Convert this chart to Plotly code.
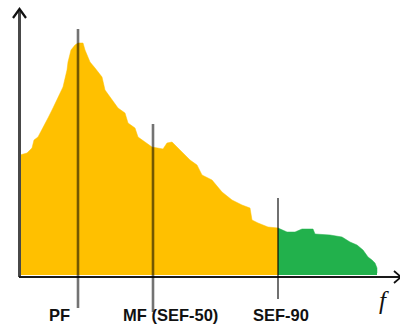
import plotly.graph_objects as go

# Power spectrum (frequency in Hz, power in arbitrary units)
freq = [0.0, 0.7, 1.2, 1.4, 1.8, 2.3, 2.8, 3.3, 3.8, 4.3, 4.7, 4.8, 5.1, 5.5,
        5.8, 6.3, 6.5, 7.0, 7.5, 8.2, 8.5, 9.2, 9.8, 10.5, 10.8, 11.5, 11.8,
        12.5, 13.2, 14.3, 14.7, 15.2, 15.7, 16.2, 17.0, 17.7, 18.2, 19.2,
        20.2, 21.2, 22.2, 23.0, 23.2, 23.8, 24.8, 25.8, 26.7, 27.5, 28.2,
        29.3, 29.5, 31.0, 32.2, 33.0, 33.7, 34.3, 34.8, 35.2, 35.5, 35.7, 35.7]
power = [48.0, 48.8, 50.8, 54.0, 55.2, 58.8, 62.8, 66.8, 71.2, 75.2, 82.0, 85.2,
         90.0, 92.0, 92.8, 92.8, 90.0, 85.2, 82.8, 79.2, 74.0, 70.0, 66.8, 64.8,
         60.8, 58.8, 55.2, 53.2, 51.2, 50.4, 52.8, 53.2, 51.2, 49.2, 46.0, 44.0,
         40.0, 38.0, 33.2, 30.0, 28.0, 26.8, 22.0, 20.8, 19.2, 18.8, 17.2, 17.2,
         18.4, 18.4, 16.4, 16.0, 15.2, 13.2, 12.0, 10.0, 7.2, 6.0, 4.8, 2.8, 0.8]

# Characteristic frequencies
marker_names = ["PF", "MF (SEF-50)", "SEF-90"]
marker_freqs = [5.8, 13.3, 25.8]

YELLOW = "#FFC000"
GREEN = "#22B14C"

# Pixel <-> data helpers for the 400x324 canvas
X0, XS = 20.0, 10.0      # pixel of f=0, pixels per Hz
Y0, YS = 275.0, 2.5      # pixel of p=0, pixels per unit
def fx(px):
    return (px - X0) / XS
def py(pix):
    return (Y0 - pix) / YS

sef = marker_freqs[2]
low = [(f, p) for f, p in zip(freq, power) if f <= sef]
high = [(f, p) for f, p in zip(freq, power) if f >= sef]

fig = go.Figure()
fig.add_trace(go.Scatter(x=[a for a, _ in low], y=[b for _, b in low],
                         mode="lines", fill="tozeroy", fillcolor=YELLOW,
                         line=dict(color=YELLOW, width=0.5), hoverinfo="skip"))
fig.add_trace(go.Scatter(x=[a for a, _ in high], y=[b for _, b in high],
                         mode="lines", fill="tozeroy", fillcolor=GREEN,
                         line=dict(color=GREEN, width=0.5), hoverinfo="skip"))

shapes = []
# Axes with open arrowheads
shapes.append(dict(type="line", x0=fx(19.5), x1=fx(19.5), y0=py(277), y1=py(9),
                   line=dict(color="#484848", width=3)))
shapes.append(dict(type="path", path=f"M {fx(13)},{py(18)} L {fx(19.5)},{py(9)} L {fx(26)},{py(18)}",
                   line=dict(color="#111111", width=2.2)))
shapes.append(dict(type="line", x0=fx(19), x1=fx(401), y0=py(277), y1=py(277),
                   line=dict(color="#1a1a1a", width=1.8)))
shapes.append(dict(type="path", path=f"M {fx(394)},{py(271)} L {fx(401)},{py(277)} L {fx(394)},{py(283)}",
                   line=dict(color="#111111", width=1.8)))

# Marker lines: (top pixel, bottom pixel, width, opacity)
marker_style = [(29, 308, 2.6, 0.55), (124, 312, 2.6, 0.55), (198, 299, 1.6, 0.7)]
for f, (top, bot, w, a) in zip(marker_freqs, marker_style):
    shapes.append(dict(type="line", x0=f, x1=f, y0=py(bot), y1=py(top),
                       line=dict(color=f"rgba(0,0,0,{a})", width=w), layer="above"))

# Labels below the axis
label_shift = [-19, 17, 3]
annotations = []
for name, f, dx in zip(marker_names, marker_freqs, label_shift):
    annotations.append(dict(x=f, y=py(315), text=f"<b>{name}</b>", showarrow=False,
                            xshift=dx, xanchor="center", yanchor="middle",
                            font=dict(family="Liberation Sans, Arial", size=16.5,
                                      color="#111111")))
annotations.append(dict(x=fx(384), y=py(300), text="<i>f</i>", showarrow=False,
                        xanchor="center", yanchor="middle",
                        font=dict(family="Liberation Serif, Times New Roman",
                                  size=25, color="#111111")))

fig.update_layout(
    width=400, height=324, autosize=False,
    margin=dict(l=0, r=0, t=0, b=0),
    paper_bgcolor="white", plot_bgcolor="white",
    showlegend=False,
    shapes=shapes, annotations=annotations,
    xaxis=dict(range=[fx(0), fx(400)], visible=False, fixedrange=True),
    yaxis=dict(range=[py(324), py(0)], visible=False, fixedrange=True),
)

fig.write_html("out.html", config={"displayModeBar": False})
